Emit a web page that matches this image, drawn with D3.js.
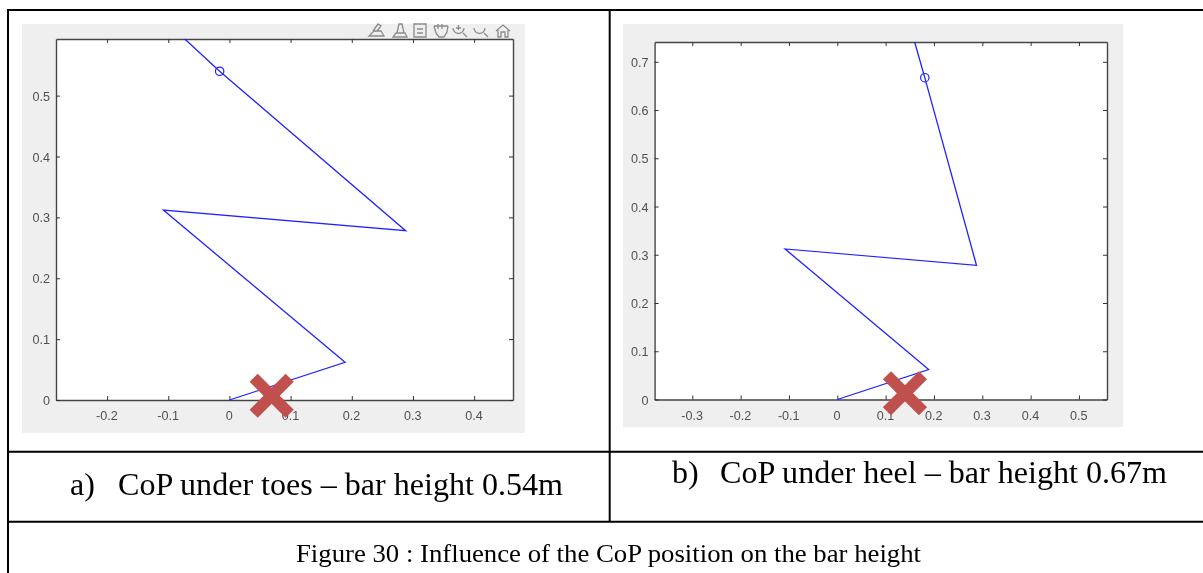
<!DOCTYPE html>
<html><head><meta charset="utf-8">
<script src="https://cdn.jsdelivr.net/npm/d3@7"></script>
<style>
html,body{margin:0;padding:0;background:#fff;overflow:hidden}
svg{display:block}
.tick text{font-family:"Liberation Sans",Arial,sans-serif;font-size:12.6px;fill:#505050}
.cap{font-family:"Liberation Serif","Times New Roman",serif;fill:#000}
</style></head><body>
<svg id="c" width="1203" height="573"></svg>
<script>
const xA=[0,0.189,-0.108,0.288,-0.016,-0.073];
const yA=[0,0.062,0.312,0.278,0.54,0.593];
const xB=[0,0.189,-0.108,0.288,0.181,0.16];
const yB=[0,0.062,0.312,0.278,0.667,0.741];
const xTicksA=[-0.2,-0.1,0,0.1,0.2,0.3,0.4];
const yTicksA=[0,0.1,0.2,0.3,0.4,0.5];
const xTicksB=[-0.3,-0.2,-0.1,0,0.1,0.2,0.3,0.4,0.5];
const yTicksB=[0,0.1,0.2,0.3,0.4,0.5,0.6,0.7];
const markerA=[-0.016,0.54], markerB=[0.181,0.667];
const crossA=[0.069,0.007], crossB=[0.14,0.013];
const captionA=["a)","CoP under toes – bar height 0.54m"];
const captionB=["b)","CoP under heel – bar height 0.67m"];
const figureCaption="Figure 30 : Influence of the CoP position on the bar height";

const svg=d3.select("#c");
const defs=svg.append("defs");
defs.append("filter").attr("id","soft").append("feGaussianBlur").attr("stdDeviation",0.4);
defs.append("filter").attr("id","softer").append("feGaussianBlur").attr("stdDeviation",0.6);

function panel(o){
  const g=svg.append("g");
  g.append("rect").attr("x",o.bg[0]).attr("y",o.bg[1]).attr("width",o.bg[2]-o.bg[0]).attr("height",o.bg[3]-o.bg[1]).attr("fill","#efefef");
  const x=d3.scaleLinear().domain(o.xd).range(o.xr);
  const y=d3.scaleLinear().domain(o.yd).range(o.yr);
  g.append("rect").attr("x",o.xr[0]).attr("y",o.yr[1]).attr("width",o.xr[1]-o.xr[0]).attr("height",o.yr[0]-o.yr[1]).attr("fill","#fff");
  const fmt=d=>d===0?"0":d.toFixed(1);
  const st=s=>{s.selectAll("path").attr("stroke","#444").attr("stroke-width",1.4);s.selectAll("line").attr("stroke","#333");};
  const ag=g.append("g").attr("filter","url(#soft)");
  ag.append("g").attr("transform",`translate(0,${o.yr[0]})`).call(d3.axisBottom(x).tickValues(o.xt).tickFormat(fmt).tickSizeInner(-4).tickSizeOuter(0).tickPadding(11.5)).call(st).selectAll("text").attr("dx",-0.7);
  ag.append("g").attr("transform",`translate(${o.xr[0]},0)`).call(d3.axisLeft(y).tickValues(o.yt).tickFormat(fmt).tickSizeInner(-4).tickSizeOuter(0).tickPadding(6)).call(st).selectAll("text").attr("dy","0.36em");
  ag.append("g").attr("transform",`translate(0,${o.yr[1]})`).call(d3.axisTop(x).tickValues(o.xt).tickFormat("").tickSizeInner(-4).tickSizeOuter(0)).call(st);
  ag.append("g").attr("transform",`translate(${o.xr[1]},0)`).call(d3.axisRight(y).tickValues(o.yt).tickFormat("").tickSizeInner(-4).tickSizeOuter(0)).call(st);
  const pts=o.px.map((v,i)=>[v,o.py[i]]);
  const pg=g.append("g").attr("filter","url(#soft)");
  pg.append("path").attr("d",d3.line().x(d=>x(d[0])).y(d=>y(d[1]))(pts)).attr("fill","none").attr("stroke","#2222ff").attr("stroke-width",1.3).attr("stroke-linejoin","miter");
  pg.append("circle").attr("cx",x(o.m[0])).attr("cy",y(o.m[1])).attr("r",4.2).attr("fill","none").attr("stroke","#2222ff").attr("stroke-width",1.2);
  const cx=x(o.c[0]),cy=y(o.c[1]);
  const a=18,b=5.8;
  [[a,a],[a,-a]].forEach(v=>{
    g.append("line").attr("x1",cx-v[0]).attr("y1",cy-v[1]).attr("x2",cx+v[0]).attr("y2",cy+v[1]).attr("stroke","#c0504d").attr("stroke-width",b*2);
  });
}
panel({bg:[22,24,525,433],xd:[-0.2835,0.4635],xr:[56,513],yd:[0,0.593],yr:[400,39],xt:xTicksA,yt:yTicksA,px:xA,py:yA,m:markerA,c:crossA});
panel({bg:[623,24,1123,427],xd:[-0.378,0.558],xr:[654.6,1107],yd:[0,0.741],yr:[399.5,42],xt:xTicksB,yt:yTicksB,px:xB,py:yB,m:markerB,c:crossB});

// MATLAB figure toolbar, faint grey icons
const tb=svg.append("g").attr("fill","none").attr("stroke","#8c8c8c").attr("stroke-width",1.3).attr("filter","url(#softer)");
["M369 36h15l-3-5h-7zM373 31l5-7 3 2-4 5",
 "M393 37h14l-2-4h-9zM397 33l2-9h3l2 9",
 "M414 24h12v13h-12zM417 29h6M417 33h6",
 "M434 26l2 7 3 4h5l3-5 1-6M434 26h14M438 24v5M442 24v5",
 "M453 28a5.5 5.5 0 1 0 11 0M463 33l4 4M456 28h5M458.5 25v5",
 "M474 28a5.5 5.5 0 1 0 11 0M484 33l4 4",
 "M496 31l7-6 7 6M498 30v7h3v-5h4v5h3v-7"
].forEach(d=>tb.append("path").attr("d",d));

// Table rules
const rules=svg.append("g").attr("stroke","#000").attr("stroke-width",2);
[[7,10,1203,10],[8,451.7,1203,451.7],[8,521.7,1203,521.7],[8,10,8,573],[609.7,10,609.7,521.7]].forEach(r=>{
  rules.append("line").attr("x1",r[0]).attr("y1",r[1]).attr("x2",r[2]).attr("y2",r[3]);
});

// Captions
function cap(t,x,y,s,w){const e=svg.append("text").attr("class","cap").attr("x",x).attr("y",y).attr("font-size",s).text(t);if(w)e.attr("textLength",w).attr("lengthAdjust","spacingAndGlyphs");}
cap(captionA[0],70,495,32);
cap(captionA[1],118,495,32,445);
cap(captionB[0],672,482.5,32);
cap(captionB[1],720,482.5,32,447);
cap(figureCaption,296,561.5,25.5,625);
</script>
</body></html>
